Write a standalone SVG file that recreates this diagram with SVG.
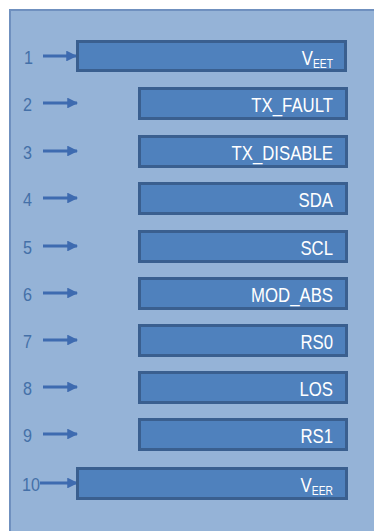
<svg xmlns="http://www.w3.org/2000/svg" width="374" height="531" viewBox="0 0 374 531">
<defs>
<style>
.pin rect{fill:#4f81bd;stroke:#3a5f8f;stroke-width:3}
.pin .lbl{font-family:"Liberation Sans",Arial,sans-serif;font-size:19.5px;fill:#ffffff;text-anchor:end}
.pin .num{font-family:"Liberation Sans",Arial,sans-serif;font-size:19px;fill:#4470a8}
.sub{font-size:12px}
#connectors line{stroke:#3e6bb0;stroke-width:3;marker-end:url(#ah)}
</style>
<marker id="ah" viewBox="0 0 10 10" refX="9" refY="5" markerWidth="3.6" markerHeight="3.6" orient="auto" markerUnits="strokeWidth">
<path d="M0,0 L10,5 L0,10 z" fill="#3e6bb0"/>
</marker>
</defs>
<rect x="0" y="0" width="374" height="531" fill="#ffffff"/>
<rect x="10" y="10" width="370" height="530" fill="#95b3d7" stroke="#6f90bf" stroke-width="2"/>
<g id="connectors">
<line x1="43" y1="56" x2="76" y2="56"/>
<line x1="43" y1="103" x2="77" y2="103"/>
<line x1="43" y1="151" x2="77" y2="151"/>
<line x1="43" y1="198" x2="77" y2="198"/>
<line x1="43" y1="246" x2="77" y2="246"/>
<line x1="43" y1="293" x2="77" y2="293"/>
<line x1="43" y1="340" x2="77" y2="340"/>
<line x1="43" y1="387" x2="77" y2="387"/>
<line x1="43" y1="434" x2="77" y2="434"/>
<line x1="40" y1="483" x2="77" y2="483"/>
</g>
<g id="pin1" class="pin"><text class="num" transform="translate(24,64) scale(0.85,1)">1</text><rect x="77.5" y="41.5" width="268" height="29"/><text class="lbl" transform="translate(333,65) scale(0.86,1)">V<tspan class="sub" dy="3">EET</tspan></text></g>
<g id="pin2" class="pin"><text class="num" transform="translate(23,111) scale(0.85,1)">2</text><rect x="139.5" y="88.5" width="207" height="30"/><text class="lbl" transform="translate(333,112) scale(0.86,1)">TX_FAULT</text></g>
<g id="pin3" class="pin"><text class="num" transform="translate(23,159) scale(0.85,1)">3</text><rect x="139.5" y="136.5" width="207" height="30"/><text class="lbl" transform="translate(333,160) scale(0.86,1)">TX_DISABLE</text></g>
<g id="pin4" class="pin"><text class="num" transform="translate(23,206) scale(0.85,1)">4</text><rect x="139.5" y="183.5" width="207" height="30"/><text class="lbl" transform="translate(333,207) scale(0.86,1)">SDA</text></g>
<g id="pin5" class="pin"><text class="num" transform="translate(23,254) scale(0.85,1)">5</text><rect x="139.5" y="231.5" width="207" height="30"/><text class="lbl" transform="translate(333,255) scale(0.86,1)">SCL</text></g>
<g id="pin6" class="pin"><text class="num" transform="translate(23,301) scale(0.85,1)">6</text><rect x="139.5" y="278.5" width="207" height="30"/><text class="lbl" transform="translate(333,302) scale(0.86,1)">MOD_ABS</text></g>
<g id="pin7" class="pin"><text class="num" transform="translate(23,348) scale(0.85,1)">7</text><rect x="139.5" y="325.5" width="207" height="30"/><text class="lbl" transform="translate(333,349) scale(0.86,1)">RS0</text></g>
<g id="pin8" class="pin"><text class="num" transform="translate(23,395) scale(0.85,1)">8</text><rect x="139.5" y="372.5" width="207" height="30"/><text class="lbl" transform="translate(333,396) scale(0.86,1)">LOS</text></g>
<g id="pin9" class="pin"><text class="num" transform="translate(23,442) scale(0.85,1)">9</text><rect x="139.5" y="419.5" width="207" height="30"/><text class="lbl" transform="translate(333,443) scale(0.86,1)">RS1</text></g>
<g id="pin10" class="pin"><text class="num" transform="translate(22,491) scale(0.85,1)">10</text><rect x="77.5" y="468.5" width="269" height="30"/><text class="lbl" transform="translate(333,492) scale(0.86,1)">V<tspan class="sub" dy="3">EER</tspan></text></g>
</svg>
